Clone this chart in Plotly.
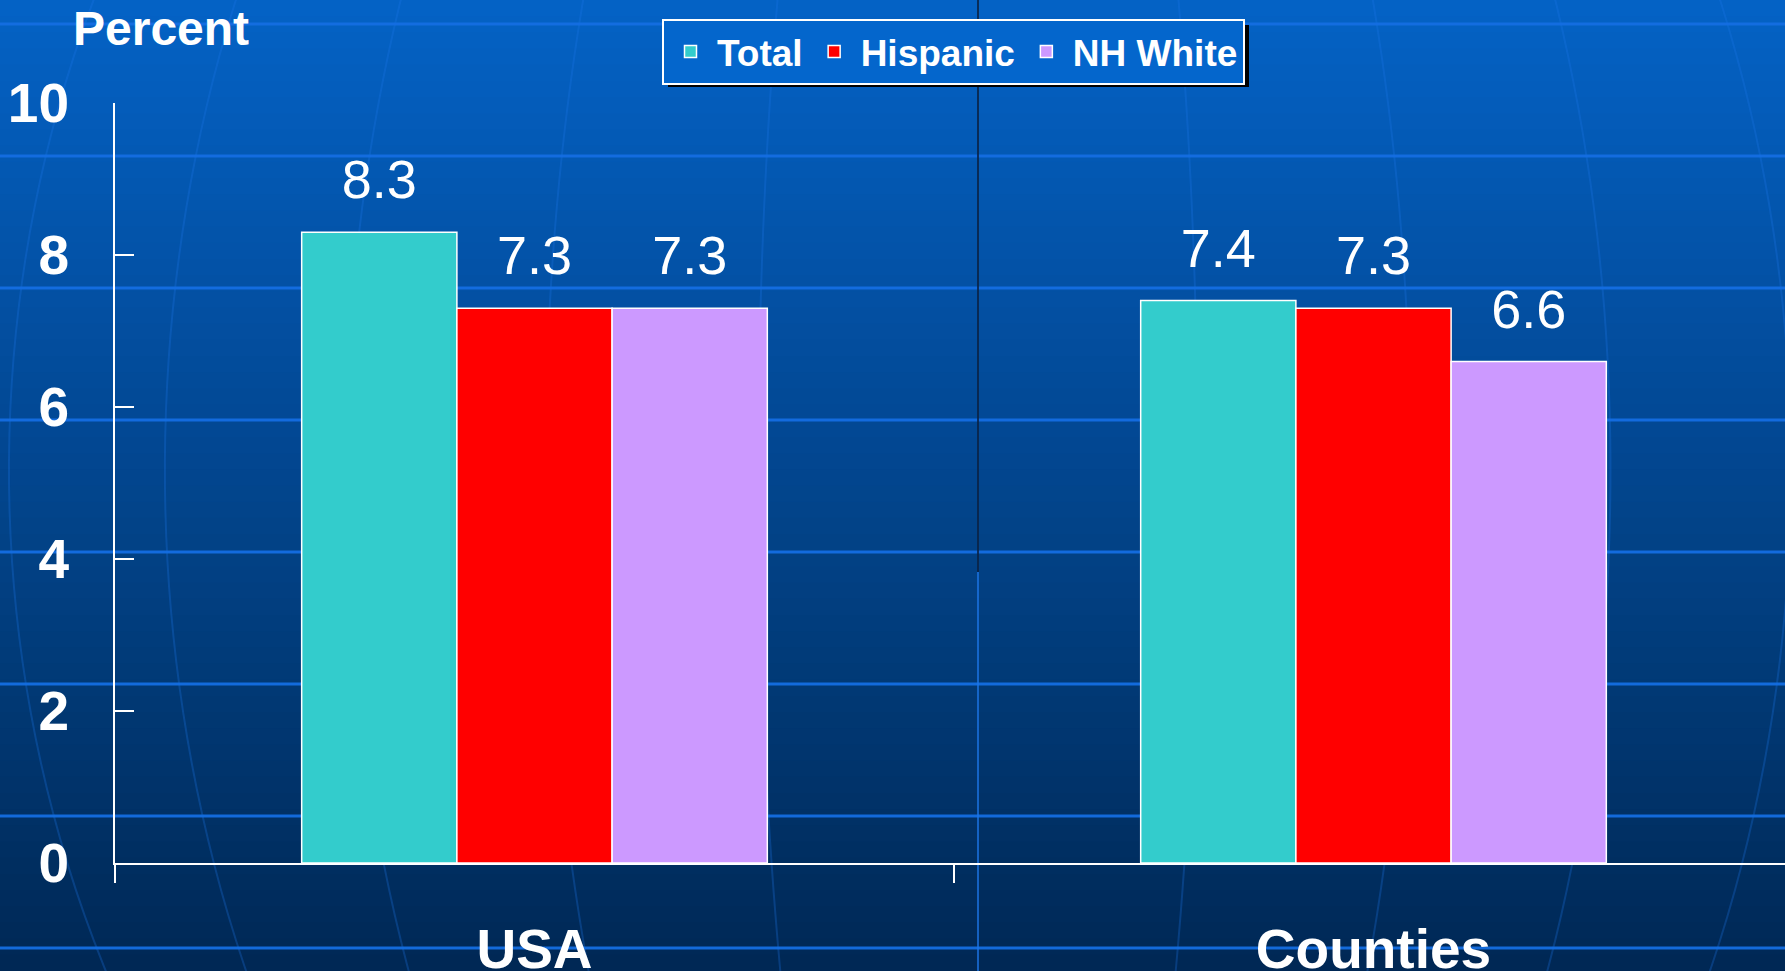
"""Rate chart: Total / Hispanic / NH White, USA vs. counties."""
import math

import plotly.graph_objects as go

# ---------------------------------------------------------------------------
# Data
# ---------------------------------------------------------------------------

categories = ["USA", "Counties"]
series_names = ["Total", "Hispanic", "NH White"]
total_values = [8.3, 7.4]
hispanic_values = [7.3, 7.3]
nh_white_values = [7.3, 6.6]
y_tick_values = [0, 2, 4, 6, 8, 10]
y_tick_labels = ["0", "2", "4", "6", "8", "10"]

series_values = [total_values, hispanic_values, nh_white_values]

# ---------------------------------------------------------------------------
# Style
# ---------------------------------------------------------------------------

W, H = 1785, 971
M_L, M_R, M_T, M_B = 115, 0, 103, 108
PLOT_W = W - M_L - M_R
PLOT_H = H - M_T - M_B

_COLORS = ["#33CCCC", "#FF0000", "#CC99FF"]
_FONT = "Liberation Sans, Arial, sans-serif"
_BARGAP = 0.445

_BG_TOP = (4, 98, 198)
_BG_BOTTOM = (0, 40, 84)
_GRID_COLOR = "rgba(20,110,225,0.95)"
_MERIDIAN_COLOR = "rgba(30,120,235,0.28)"


def px_x(x):
    """Pixel x of the page -> paper x."""
    return (x - M_L) / PLOT_W


def px_y(y):
    """Pixel y of the page (from top) -> paper y."""
    return 1 - (y - M_T) / PLOT_H


def background_shapes():
    """Gradient bands, grid lines and faint globe meridians."""
    shapes = []
    bands = 60
    step = H / bands
    for i in range(bands):
        t = (i + 0.5) / bands
        r, g, b = (round(a + (c - a) * t) for a, c in zip(_BG_TOP, _BG_BOTTOM))
        shapes.append(dict(
            type="rect", xref="paper", yref="paper", layer="below",
            x0=px_x(0), x1=px_x(W), y0=px_y(i * step), y1=px_y((i + 1) * step + 1),
            fillcolor=f"rgb({r},{g},{b})", line_width=0,
        ))

    # meridians of the globe picture behind the chart
    cx, cy, rad = 978, 470, 1150
    for lon in range(-70, 71, 10):
        pts = []
        for k in range(0, 41):
            y = -20 + k * (H + 40) / 40
            s = max(-1.0, min(1.0, (y - cy) / rad))
            x = cx + rad * math.sin(math.radians(lon)) * math.cos(math.asin(s)) * 1.1
            pts.append(f"{px_x(x):.5f},{px_y(y):.5f}")
        shapes.append(dict(
            type="path", xref="paper", yref="paper", layer="below",
            path="M" + " L".join(pts),
            line=dict(color=_MERIDIAN_COLOR, width=2),
        ))

    # horizontal light lines
    for y in range(24, H, 132):
        shapes.append(dict(
            type="line", xref="paper", yref="paper", layer="below",
            x0=px_x(0), x1=px_x(W), y0=px_y(y), y1=px_y(y),
            line=dict(color=_GRID_COLOR, width=3),
        ))

    # seam in the slide background
    shapes.append(dict(
        type="line", xref="paper", yref="paper", layer="below",
        x0=px_x(978), x1=px_x(978), y0=px_y(0), y1=px_y(572),
        line=dict(color="#0a1a33", width=1.5),
    ))
    shapes.append(dict(
        type="line", xref="paper", yref="paper", layer="below",
        x0=px_x(978), x1=px_x(978), y0=px_y(572), y1=px_y(H),
        line=dict(color="rgba(30,120,235,0.8)", width=1.5),
    ))
    return shapes


fig = go.Figure()

for name, values, color in zip(series_names, series_values, _COLORS):
    fig.add_trace(go.Bar(
        x=categories,
        y=values,
        name=name,
        offsetgroup=name,
        marker=dict(color=color, line=dict(color="white", width=1.5)),
        hoverinfo="skip",
    ))

# value labels, grouped the same way as the bars
for name, values in zip(series_names, series_values):
    fig.add_trace(go.Scatter(
        x=categories,
        y=values,
        mode="markers+text",
        text=[f"{v:.1f}" for v in values],
        textposition="top center",
        textfont=dict(family=_FONT, size=54, color="white"),
        marker=dict(size=31, opacity=0),
        offsetgroup=name,
        showlegend=False,
        hoverinfo="skip",
        cliponaxis=False,
    ))

# legend drop shadow
shapes = background_shapes()
shapes.append(dict(
    type="rect", xref="paper", yref="paper", layer="above",
    x0=px_x(668), x1=px_x(1249), y0=px_y(25), y1=px_y(87),
    fillcolor="black", line_width=0,
))

fig.update_layout(
    width=W,
    height=H,
    margin=dict(l=M_L, r=M_R, t=M_T, b=M_B, autoexpand=False),
    paper_bgcolor="rgb(0,70,140)",
    plot_bgcolor="rgba(0,0,0,0)",
    barmode="group",
    bargap=_BARGAP,
    bargroupgap=0,
    scattermode="group",
    scattergap=_BARGAP,
    shapes=shapes,
    showlegend=True,
    legend=dict(
        orientation="h",
        xref="paper", x=px_x(953.5), xanchor="center",
        yref="container", y=1 - 19 / H, yanchor="top",
        itemwidth=43,
        bgcolor="#0466cc",
        bordercolor="white",
        borderwidth=2,
        font=dict(family=_FONT, size=37, color="white", weight="bold"),
    ),
    xaxis=dict(
        type="category",
        range=[-0.5, -0.5 + PLOT_W / 839],
        showline=True, linecolor="white", linewidth=2,
        ticks="outside", tickson="boundaries", ticklen=18,
        tickcolor="white", tickwidth=2,
        tickfont=dict(family=_FONT, size=55, color="white", weight="bold"),
        ticklabelstandoff=37,
        showgrid=False, zeroline=False,
    ),
    yaxis=dict(
        range=[0, 10],
        tickvals=y_tick_values,
        ticktext=y_tick_labels,
        showline=True, linecolor="white", linewidth=2,
        ticks="inside", ticklen=19, tickcolor="white", tickwidth=2,
        tickfont=dict(family=_FONT, size=55, color="white", weight="bold"),
        ticklabelstandoff=33,
        showgrid=False, zeroline=False,
    ),
    annotations=[dict(
        text="Percent",
        xref="paper", yref="paper",
        x=px_x(71), y=px_y(28),
        xanchor="left", yanchor="middle",
        showarrow=False,
        font=dict(family=_FONT, size=48, color="white", weight="bold"),
    )],
)

fig.write_html(
    "out.html",
    config={"displayModeBar": False},
    post_script="document.body.style.margin='0';"
                "document.body.style.overflow='hidden';",
)
